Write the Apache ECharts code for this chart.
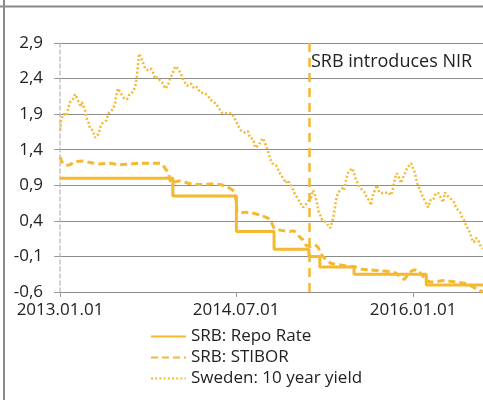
<!DOCTYPE html>
<html><head><meta charset="utf-8">
<script src="https://cdn.jsdelivr.net/npm/echarts@6/dist/echarts.min.js"></script>
<style>html,body{margin:0;padding:0;background:#fff}#c{width:483px;height:400px}</style>
</head><body><div id="c"></div>
<script>
// ---- data ----
const xTickLabels = ['2013.01.01', '2014.07.01', '2016.01.01'];
const xRange = ['2013.01.01', '2016.08.05'];
const yTickLabels = ['-0,6', '-0,1', '0,4', '0,9', '1,4', '1,9', '2,4', '2,9'];
const seriesNames = ['SRB: Repo Rate', 'SRB: STIBOR', 'Sweden: 10 year yield'];

const nirDate = '2015-02-12';
const nirLabel = 'SRB introduces NIR';
const nirLabelLevel = 2.64;

const repoDates = ['2013-01-01','2013-12-17','2014-07-02','2014-10-27','2015-02-12','2015-03-18','2015-07-02','2016-02-11','2016-08-05'];
const repoValues = [1.00, 0.75, 0.25, 0.00, -0.10, -0.25, -0.35, -0.50, -0.50];

const stiborDates = ['2013-01-02','2013-01-07','2013-01-20','2013-02-01','2013-02-17','2013-03-10','2013-04-04','2013-05-05','2013-06-05','2013-07-06','2013-08-06','2013-09-06','2013-10-07','2013-11-07','2013-11-23','2013-12-02','2013-12-14','2013-12-24','2014-01-08','2014-02-02','2014-03-11','2014-04-21','2014-05-12','2014-06-06','2014-06-25','2014-07-01','2014-07-07','2014-07-29','2014-08-20','2014-09-13','2014-10-14','2014-10-27','2014-11-14','2014-12-15','2014-12-25','2015-01-15','2015-01-25','2015-02-03','2015-02-16','2015-02-28','2015-03-12','2015-03-22','2015-04-03','2015-04-19','2015-05-04','2015-05-20','2015-06-20','2015-07-08','2015-07-27','2015-08-21','2015-09-20','2015-11-06','2015-11-22','2015-12-04','2015-12-17','2016-01-04','2016-01-17','2016-02-01','2016-02-13','2016-02-29','2016-04-09','2016-05-10','2016-06-10','2016-07-02','2016-07-21','2016-08-05'];
const stiborValues = [1.30,1.23,1.18,1.19,1.23,1.24,1.22,1.20,1.21,1.19,1.20,1.21,1.21,1.21,1.14,1.07,0.93,0.95,0.96,0.93,0.91,0.92,0.91,0.87,0.81,0.69,0.51,0.52,0.51,0.48,0.42,0.30,0.27,0.25,0.26,0.17,0.13,0.06,0.04,0.06,0.03,-0.07,-0.13,-0.19,-0.21,-0.22,-0.24,-0.25,-0.28,-0.29,-0.30,-0.33,-0.39,-0.42,-0.35,-0.29,-0.30,-0.38,-0.44,-0.46,-0.44,-0.46,-0.48,-0.52,-0.57,-0.60];

const yieldDates = ['2013-01-02','2013-01-04','2013-01-07','2013-01-13','2013-01-23','2013-01-26','2013-02-01','2013-02-10','2013-02-17','2013-02-23','2013-02-26','2013-03-04','2013-03-07','2013-03-10','2013-03-20','2013-03-23','2013-03-29','2013-04-04','2013-04-13','2013-04-20','2013-04-26','2013-05-02','2013-05-05','2013-05-14','2013-05-24','2013-06-02','2013-06-14','2013-06-21','2013-06-24','2013-06-30','2013-07-06','2013-07-12','2013-07-19','2013-07-28','2013-08-06','2013-08-15','2013-08-22','2013-08-25','2013-08-28','2013-08-31','2013-09-03','2013-09-09','2013-09-12','2013-09-15','2013-09-22','2013-10-01','2013-10-10','2013-10-16','2013-10-23','2013-11-01','2013-11-07','2013-11-17','2013-11-23','2013-12-02','2013-12-08','2013-12-18','2013-12-24','2014-01-02','2014-01-11','2014-01-21','2014-01-30','2014-02-11','2014-02-21','2014-03-02','2014-03-11','2014-03-17','2014-03-27','2014-04-05','2014-04-11','2014-04-21','2014-04-30','2014-05-09','2014-05-18','2014-05-28','2014-06-06','2014-06-19','2014-06-28','2014-07-07','2014-07-16','2014-07-29','2014-08-07','2014-08-13','2014-08-23','2014-08-29','2014-09-04','2014-09-10','2014-09-16','2014-09-23','2014-09-29','2014-10-08','2014-10-14','2014-10-21','2014-11-02','2014-11-14','2014-11-24','2014-12-03','2014-12-09','2014-12-22','2014-12-28','2015-01-06','2015-01-15','2015-01-25','2015-01-31','2015-02-06','2015-02-12','2015-02-19','2015-02-25','2015-03-03','2015-03-09','2015-03-12','2015-03-19','2015-03-25','2015-04-06','2015-04-12','2015-04-19','2015-04-25','2015-05-01','2015-05-04','2015-05-07','2015-05-13','2015-05-20','2015-05-26','2015-06-01','2015-06-07','2015-06-13','2015-06-20','2015-06-26','2015-07-02','2015-07-08','2015-07-14','2015-07-21','2015-07-30','2015-08-05','2015-08-11','2015-08-18','2015-08-24','2015-08-27','2015-09-02','2015-09-11','2015-09-18','2015-09-27','2015-10-06','2015-10-15','2015-10-25','2015-10-31','2015-11-06','2015-11-12','2015-11-19','2015-11-25','2015-12-01','2015-12-07','2015-12-13','2015-12-20','2015-12-26','2016-01-01','2016-01-07','2016-01-13','2016-01-20','2016-01-23','2016-02-01','2016-02-10','2016-02-17','2016-02-23','2016-03-03','2016-03-12','2016-03-19','2016-03-28','2016-04-03','2016-04-09','2016-04-15','2016-04-25','2016-05-01','2016-05-07','2016-05-13','2016-05-20','2016-05-26','2016-06-01','2016-06-07','2016-06-13','2016-06-20','2016-06-26','2016-07-02','2016-07-08','2016-07-14','2016-07-21','2016-07-30','2016-08-05'];
const yieldValues = [1.67,1.80,1.85,1.90,1.88,1.98,2.07,2.11,2.18,2.19,2.09,2.07,2.00,2.07,1.95,1.85,1.81,1.70,1.67,1.57,1.57,1.63,1.71,1.78,1.81,1.92,1.97,2.05,2.16,2.26,2.21,2.19,2.12,2.11,2.19,2.21,2.28,2.35,2.45,2.60,2.75,2.70,2.66,2.63,2.54,2.52,2.54,2.49,2.40,2.42,2.37,2.33,2.26,2.30,2.40,2.49,2.57,2.54,2.47,2.36,2.30,2.33,2.26,2.28,2.21,2.19,2.19,2.16,2.11,2.07,2.05,1.98,1.92,1.91,1.92,1.91,1.83,1.74,1.67,1.64,1.66,1.57,1.55,1.43,1.43,1.46,1.53,1.56,1.49,1.39,1.28,1.21,1.18,1.07,1.00,0.93,0.97,0.87,0.80,0.73,0.66,0.59,0.58,0.65,0.66,0.73,0.83,0.76,0.65,0.55,0.48,0.41,0.38,0.37,0.30,0.38,0.51,0.59,0.69,0.79,0.83,0.86,0.83,0.97,1.07,1.11,1.14,1.08,0.97,0.93,0.86,0.83,0.79,0.72,0.69,0.62,0.72,0.80,0.90,0.80,0.79,0.79,0.80,0.76,0.86,1.00,1.07,1.00,0.93,1.01,1.07,1.14,1.18,1.21,1.14,1.07,0.94,0.86,0.83,0.73,0.65,0.59,0.69,0.69,0.79,0.79,0.72,0.66,0.80,0.76,0.72,0.73,0.66,0.59,0.55,0.52,0.45,0.41,0.34,0.28,0.23,0.14,0.10,0.16,0.13,0.03,0.01];

// ---- helpers ----
const COLOR = '#F5B831';
const FONT = 'Open Sans';
function toTime(s) { const p = s.split(/[-.]/).map(Number); return new Date(p[0], p[1] - 1, p[2]).getTime(); }
function pad(n) { return (n < 10 ? '0' : '') + n; }
function fmtDate(v) { const d = new Date(v); return d.getFullYear() + '.' + pad(d.getMonth() + 1) + '.' + pad(d.getDate()); }
const yVals = yTickLabels.map(s => parseFloat(s.replace(',', '.')));
const Y_OFFSET = -yVals[0];            // shift so the axis min is 0 (a multiple of the interval)
const Y_STEP = yVals[1] - yVals[0];
function pairs(dates, vals) { return dates.map((d, i) => [toTime(d), vals[i] + Y_OFFSET]); }

const chart = echarts.init(document.getElementById('c'));
chart.setOption({
  backgroundColor: '#fff',
  animation: false,
  textStyle: { fontFamily: FONT },
  grid: { left: 60, right: 0, top: 43, bottom: 108, containLabel: false },
  xAxis: {
    type: 'value',
    min: toTime(xRange[0]), max: toTime(xRange[1]),
    axisLine: { show: true, lineStyle: { color: '#8c8c8c', width: 1 } },
    axisTick: { show: true, length: 5, lineStyle: { color: '#9a9a9a' }, customValues: xTickLabels.map(toTime) },
    axisLabel: { show: true, fontSize: 17, color: '#222', margin: 10, fontFamily: FONT,
      customValues: xTickLabels.map(toTime), formatter: v => fmtDate(v) },
    splitLine: { show: false }
  },
  yAxis: {
    type: 'value',
    min: 0, max: yVals[yVals.length - 1] + Y_OFFSET, interval: Y_STEP,
    axisLine: { show: true, lineStyle: { color: '#c4c4c4', width: 1.5, type: [4, 3] } },
    axisTick: { show: true, length: 6, lineStyle: { color: '#9a9a9a' } },
    axisLabel: { fontSize: 17, color: '#222', margin: 17, fontFamily: FONT,
      formatter: v => (v - Y_OFFSET).toFixed(1).replace('.', ',') },
    splitLine: { show: true, lineStyle: { color: '#8c8c8c', width: 1 } }
  },
  legend: {
    orient: 'vertical', left: 150, top: 328, padding: 0,
    itemWidth: 35, itemHeight: 12, itemGap: 4,
    itemStyle: { opacity: 0 },
    textStyle: { fontSize: 17, color: '#222', fontFamily: FONT, lineHeight: 17 },
    data: seriesNames
  },
  graphic: [
    { type: 'line', shape: { x1: 0, y1: 6.5, x2: 483, y2: 6.5 }, style: { stroke: '#8a8a8a', lineWidth: 2 }, silent: true },
    { type: 'line', shape: { x1: 4, y1: 0, x2: 4, y2: 400 }, style: { stroke: '#8a8a8a', lineWidth: 2 }, silent: true }
  ],
  series: [
    {
      name: seriesNames[0], type: 'line', step: 'end', symbol: 'none',
      data: pairs(repoDates, repoValues),
      lineStyle: { color: COLOR, width: 3 }, itemStyle: { color: COLOR },
      z: 3,
      markLine: {
        silent: true, symbol: ['none', 'none'], animation: false,
        label: { show: false },
        lineStyle: { color: COLOR, width: 2.5, type: [9, 6] },
        data: [{ xAxis: toTime(nirDate) }]
      },
      markPoint: {
        silent: true, symbol: 'circle', symbolSize: 0,
        label: { show: true, position: 'right', distance: 2, color: '#222', fontSize: 18, fontFamily: FONT, formatter: nirLabel },
        data: [{ coord: [toTime(nirDate), nirLabelLevel + Y_OFFSET] }]
      }
    },
    {
      name: seriesNames[1], type: 'line', symbol: 'none', smooth: 0.3,
      data: pairs(stiborDates, stiborValues),
      lineStyle: { color: COLOR, width: 3, type: [7, 4] }, itemStyle: { color: COLOR },
      z: 2
    },
    {
      name: seriesNames[2], type: 'line', symbol: 'none',
      data: pairs(yieldDates, yieldValues),
      lineStyle: { color: COLOR, width: 2.5, type: [2, 2.2] }, itemStyle: { color: COLOR },
      z: 1
    }
  ]
});
</script>
</body></html>
